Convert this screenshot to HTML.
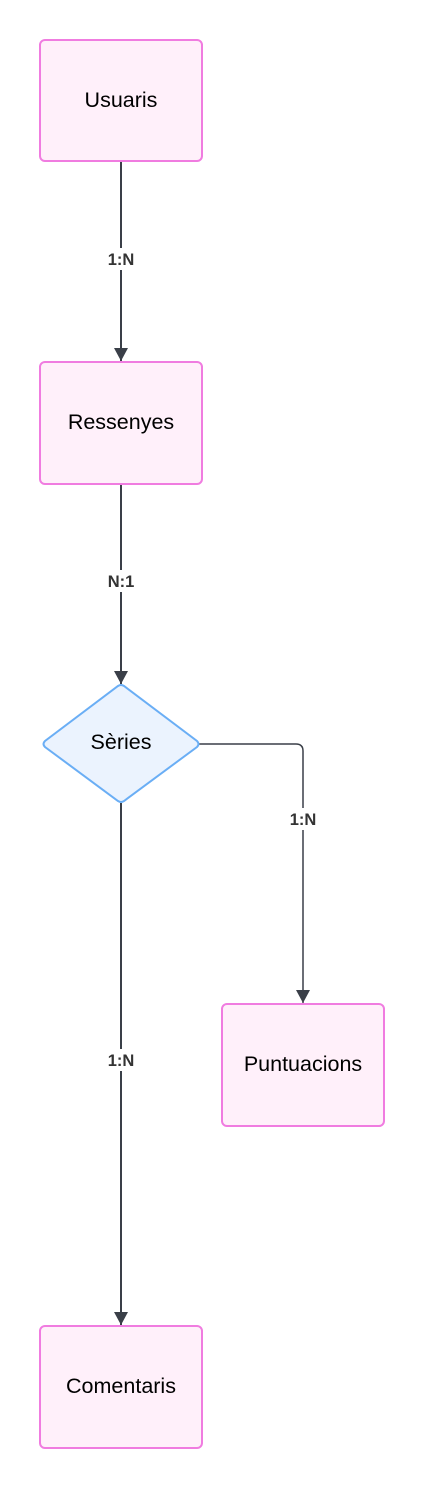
<!DOCTYPE html>
<html><head><meta charset="utf-8"><style>
html,body{margin:0;padding:0;background:#fff;}
svg{display:block;font-family:"Liberation Sans",sans-serif;}
.box{fill:#fff0fa;stroke:#f07ce0;stroke-width:2;}
.lbl{font-size:21.5px;fill:#000;text-anchor:middle;dominant-baseline:central;}
.edge{stroke:#3a3f48;stroke-width:2;fill:none;}
.el{font-size:16.5px;font-weight:bold;fill:#333;text-anchor:middle;dominant-baseline:central;}
.bg{fill:#fff;}
</style></head><body>
<svg width="424" height="1488" viewBox="0 0 424 1488">
<defs><marker id="ah" markerWidth="13" markerHeight="14" refX="13" refY="7" orient="auto" markerUnits="userSpaceOnUse"><path d="M0,0 L13,7 L0,14 Z" fill="#3a3f48"/></marker></defs>
<g>
<path class="edge" d="M121,162 L121,361" marker-end="url(#ah)"/>
<rect class="bg" x="100" y="248" width="42" height="22"/><text class="el" x="121" y="260">1:N</text></g>
<g>
<path class="edge" d="M121,485 L121,684" marker-end="url(#ah)"/>
<rect class="bg" x="100" y="570" width="42" height="22"/><text class="el" x="121" y="582">N:1</text></g>
<g>
<path class="edge" style="stroke-width:1.5" d="M199,744 L296,744 Q303,744 303,751 L303,1003" marker-end="url(#ah)"/>
<rect class="bg" x="282" y="808" width="42" height="22"/><text class="el" x="303" y="820">1:N</text></g>
<g>
<path class="edge" d="M121,803 L121,1325" marker-end="url(#ah)"/>
<rect class="bg" x="100" y="1049" width="42" height="22"/><text class="el" x="121" y="1061">1:N</text></g>
<g><rect class="box" x="40" y="40" width="162" height="121" rx="5"/><text class="lbl" x="121" y="100">Usuaris</text></g>
<g><rect class="box" x="40" y="362" width="162" height="122" rx="5"/><text class="lbl" x="121" y="422">Ressenyes</text></g>
<g><path d="M118,686 Q121,684 124,686 L197,741 Q200,744 197,747 L124,801 Q121,803 118,801 L45,747 Q42,744 45,741 Z" fill="#ebf3fe" stroke="#6aaef5" stroke-width="2"/><text class="lbl" x="121" y="742">Sèries</text></g>
<g><rect class="box" x="222" y="1004" width="162" height="122" rx="5"/><text class="lbl" x="303" y="1064">Puntuacions</text></g>
<g><rect class="box" x="40" y="1326" width="162" height="122" rx="5"/><text class="lbl" x="121" y="1386">Comentaris</text></g>
</svg>
</body></html>
